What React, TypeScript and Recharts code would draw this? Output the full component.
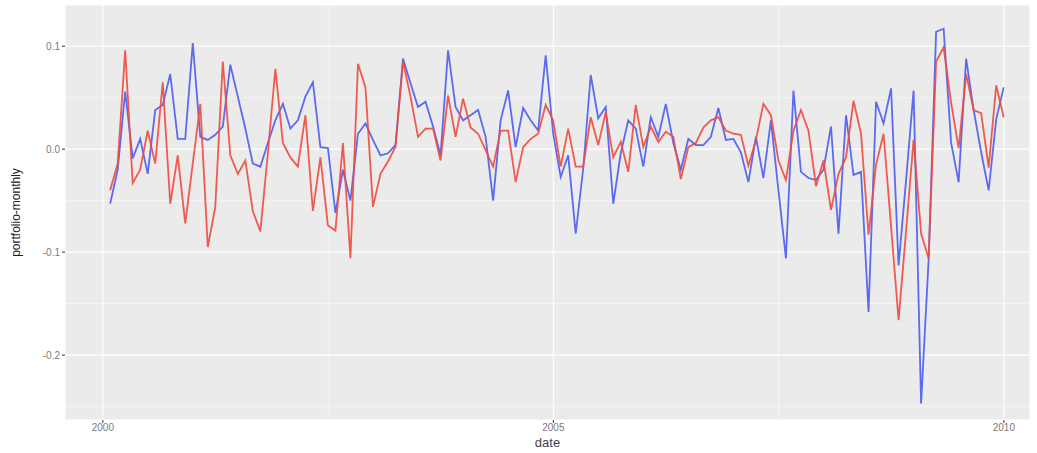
import React from 'react';
import { LineChart, Line, XAxis, YAxis, CartesianGrid, ReferenceLine } from 'recharts';

const startYear = 2000;
const monthCount = 120;
const months: string[] = Array.from({ length: monthCount }, (_, i) => {
  const y = startYear + Math.floor(i / 12);
  const m = (i % 12) + 1;
  return `${y}-${m < 10 ? '0' + m : m}`;
});

const blueSeries: number[] = [
  -0.053, -0.020, 0.056, -0.009, 0.010, -0.024, 0.038, 0.043, 0.073, 0.010,
  0.010, 0.103, 0.012, 0.009, 0.014, 0.022, 0.082, 0.051, 0.020, -0.014,
  -0.017, 0.006, 0.028, 0.044, 0.020, 0.028, 0.051, 0.065, 0.002, 0.001,
  -0.062, -0.020, -0.050, 0.015, 0.025, 0.009, -0.006, -0.004, 0.004, 0.088,
  0.064, 0.041, 0.046, 0.022, -0.006, 0.096, 0.041, 0.028, 0.033, 0.038,
  0.012, -0.050, 0.028, 0.057, 0.002, 0.040, 0.028, 0.018, 0.091, 0.015,
  -0.027, -0.006, -0.082, -0.019, 0.072, 0.030, 0.041, -0.053, -0.004, 0.028,
  0.020, -0.017, 0.031, 0.012, 0.044, 0.006, -0.020, 0.010, 0.004, 0.004,
  0.012, 0.040, 0.009, 0.010, -0.003, -0.032, 0.012, -0.028, 0.028, -0.040,
  -0.106, 0.057, -0.022, -0.028, -0.030, -0.020, 0.022, -0.082, 0.033, -0.025,
  -0.022, -0.158, 0.046, 0.025, 0.059, -0.113, -0.030, 0.057, -0.247, -0.108,
  0.114, 0.117, 0.006, -0.032, 0.088, 0.038, -0.003, -0.040, 0.029, 0.060,
];

const redSeries: number[] = [
  -0.040, -0.014, 0.096, -0.033, -0.020, 0.018, -0.014, 0.065, -0.053, -0.006,
  -0.072, -0.014, 0.044, -0.095, -0.056, 0.085, -0.006, -0.024, -0.011, -0.060,
  -0.080, -0.004, 0.078, 0.006, -0.008, -0.017, 0.033, -0.060, -0.008, -0.074,
  -0.079, 0.006, -0.106, 0.083, 0.060, -0.056, -0.024, -0.012, 0.002, 0.085,
  0.051, 0.012, 0.020, 0.020, -0.011, 0.052, 0.012, 0.049, 0.021, 0.015,
  -0.001, -0.017, 0.018, 0.018, -0.032, 0.002, 0.010, 0.015, 0.043, 0.028,
  -0.017, 0.020, -0.017, -0.017, 0.031, 0.004, 0.036, -0.008, 0.007, -0.022,
  0.043, 0.002, 0.022, 0.007, 0.017, 0.012, -0.029, 0.002, 0.006, 0.021,
  0.028, 0.031, 0.018, 0.015, 0.014, -0.016, 0.009, 0.044, 0.033, -0.011,
  -0.030, 0.018, 0.038, 0.018, -0.036, -0.011, -0.059, -0.024, -0.008, 0.047,
  0.015, -0.083, -0.015, 0.015, -0.075, -0.166, -0.079, 0.009, -0.082, -0.106,
  0.085, 0.099, 0.045, 0.001, 0.073, 0.038, 0.035, -0.018, 0.062, 0.031,
];

const xTicks = [2000, 2005, 2010];
const xMinor = [2002.5, 2007.5];
const yTicks = [-0.2, -0.1, 0.0, 0.1];
const yMinor = [-0.25, -0.15, -0.05, 0.05];

const toDecimalYear = (ym: string) => {
  const [y, m] = ym.split('-').map(Number);
  // end of month
  return y + m / 12 - 0.002;
};

const data = months.map((m, i) => ({
  t: toDecimalYear(m),
  blue: blueSeries[i],
  red: redSeries[i],
}));

const fmtY = (v: number) => (Math.abs(v) < 1e-9 ? '0.0' : v.toFixed(1));

export default function App() {
  return (
    <div style={{ position: 'absolute', left: 0, top: 0, background: '#fff' }}>
      <LineChart
        width={1037}
        height={453}
        data={data}
        margin={{ top: 5, right: 7, bottom: 0, left: 0 }}
      >
        <CartesianGrid fill="#EBEBEB" stroke="#FFFFFF" strokeWidth={1.1} />
        {xMinor.map((v) => (
          <ReferenceLine key={'xm' + v} x={v} stroke="#FFFFFF" strokeWidth={0.5} />
        ))}
        {yMinor.map((v) => (
          <ReferenceLine key={'ym' + v} y={v} stroke="#FFFFFF" strokeWidth={0.5} />
        ))}
        <XAxis
          type="number"
          dataKey="t"
          domain={[1999.58, 2010.29]}
          ticks={xTicks}
          allowDataOverflow
          height={33}
          tickSize={3}
          tickLine={{ stroke: '#333333' }}
          axisLine={false}
          tick={{ fill: '#7a7a7a', fontSize: 10, fontFamily: 'Liberation Sans, Arial, sans-serif' }}
          tickMargin={1}
          label={{
            value: 'date',
            position: 'insideBottom',
            offset: 6,
            fill: '#444444',
            fontSize: 13,
            fontFamily: 'Liberation Sans, Arial, sans-serif',
          }}
        />
        <YAxis
          type="number"
          domain={[-0.263, 0.14]}
          ticks={yTicks}
          allowDataOverflow
          width={65}
          tickSize={3}
          tickLine={{ stroke: '#333333' }}
          axisLine={false}
          tickFormatter={fmtY}
          tick={{ fill: '#7a7a7a', fontSize: 10, fontFamily: 'Liberation Sans, Arial, sans-serif' }}
          tickMargin={2}
          label={{
            value: 'portfolio-monthly',
            angle: -90,
            position: 'insideLeft',
            offset: 16,
            style: { textAnchor: 'middle' },
            fill: '#222222',
            fontSize: 12,
            fontFamily: 'Liberation Sans, Arial, sans-serif',
          }}
        />
        <Line
          type="linear"
          dataKey="blue"
          stroke="#4b5cf0"
          strokeOpacity={0.9}
          strokeWidth={1.8}
          dot={false}
          isAnimationActive={false}
        />
        <Line
          type="linear"
          dataKey="red"
          stroke="#f04a3e"
          strokeOpacity={0.9}
          strokeWidth={1.8}
          dot={false}
          isAnimationActive={false}
        />
      </LineChart>
    </div>
  );
}
